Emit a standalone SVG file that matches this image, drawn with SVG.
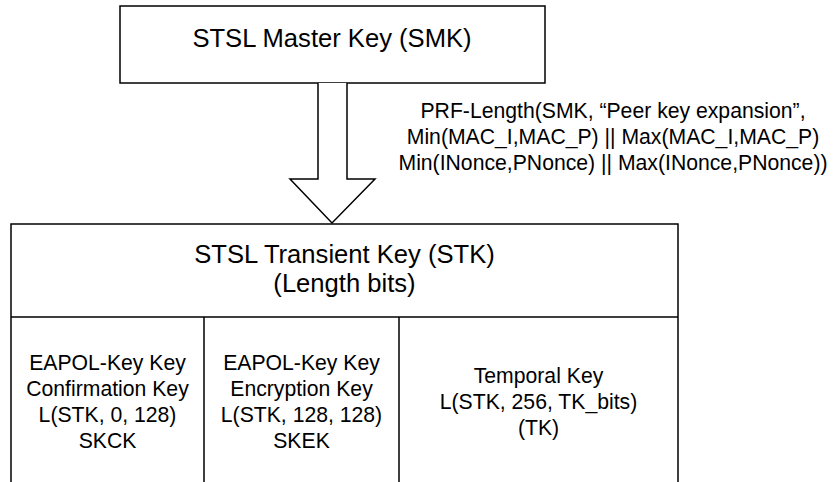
<svg xmlns="http://www.w3.org/2000/svg" width="837" height="482" viewBox="0 0 837 482">
<style>
.b{fill:#fff;stroke:#000;stroke-width:1.5}
.l{fill:none;stroke:#000;stroke-width:1.5}
.t{font-family:"Liberation Sans",Arial,sans-serif;fill:#000;text-anchor:middle}
.big{font-size:25.6px}
.sm{font-size:21.2px}
</style>
<rect width="837" height="482" fill="#fff"/>
<g id="smk">
<rect class="b" x="120" y="6" width="425" height="77"/>
<text class="t big" x="332" y="47">STSL Master Key (SMK)</text>
</g>
<g id="connectors">
<path class="b" stroke-width="1" d="M318,83 V179 H290 L332,223 L375,179 H347 V83"/>
<text class="t sm" x="613" y="118">PRF-Length(SMK, “Peer key expansion”,</text>
<text class="t sm" x="613" y="144">Min(MAC_I,MAC_P) || Max(MAC_I,MAC_P)</text>
<text class="t sm" x="613" y="170">Min(INonce,PNonce) || Max(INonce,PNonce))</text>
</g>
<g id="stk">
<path class="l" d="M11,482 V224 H678 V482 M11,317 H678 M204,317 V482 M399,317 V482"/>
<text class="t big" x="344.5" y="263">STSL Transient Key (STK)</text>
<text class="t big" x="344.5" y="292">(Length bits)</text>
</g>
<g id="skck">
<text class="t sm" x="107.5" y="370">EAPOL-Key Key</text>
<text class="t sm" x="107.5" y="396">Confirmation Key</text>
<text class="t sm" x="107.5" y="422">L(STK, 0, 128)</text>
<text class="t sm" x="107.5" y="448">SKCK</text>
</g>
<g id="skek">
<text class="t sm" x="301.5" y="370">EAPOL-Key Key</text>
<text class="t sm" x="301.5" y="396">Encryption Key</text>
<text class="t sm" x="301.5" y="422">L(STK, 128, 128)</text>
<text class="t sm" x="301.5" y="448">SKEK</text>
</g>
<g id="tk">
<text class="t sm" x="538.5" y="383">Temporal Key</text>
<text class="t sm" x="538.5" y="409">L(STK, 256, TK_bits)</text>
<text class="t sm" x="538.5" y="435">(TK)</text>
</g>
</svg>
